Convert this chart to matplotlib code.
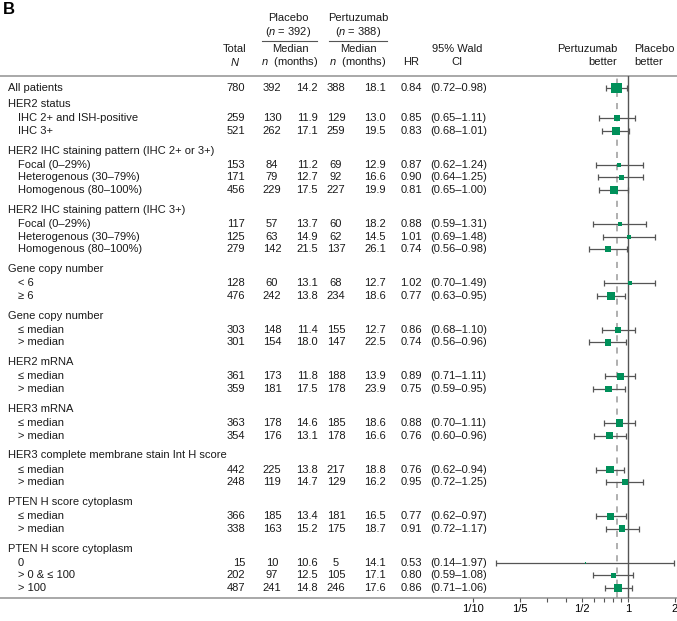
import numpy as np
import matplotlib.pyplot as plt

# ---------------------- 字体设置 ----------------------
plt.rcParams['font.family'] = ['Liberation Sans', 'DejaVu Sans']
plt.rcParams['mathtext.fontset'] = 'custom'
plt.rcParams['mathtext.it'] = 'Liberation Sans:italic'
plt.rcParams['mathtext.rm'] = 'Liberation Sans'

# ---------------------- 数据 ----------------------
group_names = ["HER2 status",
               "HER2 IHC staining pattern (IHC 2+ or 3+)",
               "HER2 IHC staining pattern (IHC 3+)",
               "Gene copy number",
               "Gene copy number",
               "HER2 mRNA",
               "HER3 mRNA",
               "HER3 complete membrane stain Int H score",
               "PTEN H score cytoplasm",
               "PTEN H score cytoplasm"]
group_sizes = [2, 3, 3, 2, 2, 2, 2, 2, 2, 3]

row_labels = ["All patients",
              "IHC 2+ and ISH-positive", "IHC 3+",
              "Focal (0\u201329%)", "Heterogenous (30\u201379%)", "Homogenous (80\u2013100%)",
              "Focal (0\u201329%)", "Heterogenous (30\u201379%)", "Homogenous (80\u2013100%)",
              "< 6", "\u2265 6",
              "\u2264 median", "> median",
              "\u2264 median", "> median",
              "\u2264 median", "> median",
              "\u2264 median", "> median",
              "\u2264 median", "> median",
              "0", "> 0 & \u2264 100", "> 100"]

total_n = [780, 259, 521, 153, 171, 456, 117, 125, 279, 128, 476, 303, 301,
           361, 359, 363, 354, 442, 248, 366, 338, 15, 202, 487]
pla_n = [392, 130, 262, 84, 79, 229, 57, 63, 142, 60, 242, 148, 154,
         173, 181, 178, 176, 225, 119, 185, 163, 10, 97, 241]
pla_med = [14.2, 11.9, 17.1, 11.2, 12.7, 17.5, 13.7, 14.9, 21.5, 13.1, 13.8, 11.4, 18.0,
           11.8, 17.5, 14.6, 13.1, 13.8, 14.7, 13.4, 15.2, 10.6, 12.5, 14.8]
per_n = [388, 129, 259, 69, 92, 227, 60, 62, 137, 68, 234, 155, 147,
         188, 178, 185, 178, 217, 129, 181, 175, 5, 105, 246]
per_med = [18.1, 13.0, 19.5, 12.9, 16.6, 19.9, 18.2, 14.5, 26.1, 12.7, 18.6, 12.7, 22.5,
           13.9, 23.9, 18.6, 16.6, 18.8, 16.2, 16.5, 18.7, 14.1, 17.1, 17.6]
hr = [0.84, 0.85, 0.83, 0.87, 0.90, 0.81, 0.88, 1.01, 0.74, 1.02, 0.77, 0.86, 0.74,
      0.89, 0.75, 0.88, 0.76, 0.76, 0.95, 0.77, 0.91, 0.53, 0.80, 0.86]
ci_lo = [0.72, 0.65, 0.68, 0.62, 0.64, 0.65, 0.59, 0.69, 0.56, 0.70, 0.63, 0.68, 0.56,
         0.71, 0.59, 0.70, 0.60, 0.62, 0.72, 0.62, 0.72, 0.14, 0.59, 0.71]
ci_hi = [0.98, 1.11, 1.01, 1.24, 1.25, 1.00, 1.31, 1.48, 0.98, 1.49, 0.95, 1.10, 0.96,
         1.11, 0.95, 1.11, 0.96, 0.94, 1.25, 0.97, 1.17, 1.97, 1.08, 1.06]

x_ticks = [0.1, 0.2, 0.5, 1, 2]
x_tick_labels = ["1/10", "1/5", "1/2", "1", "2"]

# ---------------------- 版面（像素） ----------------------
W, H = 677, 621
top_line, first_row = 76, 88
gap_first, gap_head, row_step, gap_group = 16, 14.2, 12.6, 19.8

row_y = [first_row]
head_y = []
cur = first_row + gap_first
for size in group_sizes:
    head_y.append(cur)
    cur += gap_head
    for k in range(size):
        row_y.append(cur)
        if k < size - 1:
            cur += row_step
    cur += gap_group
bottom_line = row_y[-1] + 10

fig = plt.figure(figsize=(W / 100, H / 100), dpi=100)
ax = fig.add_axes([0, 0, 1, 1])
ax.set_xlim(0, W)
ax.set_ylim(H, 0)
ax.axis('off')

fs = 8
txt = dict(fontsize=fs, va='center', color='#1a1a1a')

ax.text(3, 10, "B", fontsize=12, fontweight='bold', va='center')

# 表头
ax.text(288, 18, "Placebo", ha='center', **txt)
ax.text(288, 32, "($n$ = 392)", ha='center', **txt)
ax.plot([262, 317], [41, 41], color='#555555', lw=0.8)
ax.text(358, 18, "Pertuzumab", ha='center', **txt)
ax.text(358, 32, "($n$ = 388)", ha='center', **txt)
ax.plot([329, 387], [41, 41], color='#555555', lw=0.8)
ax.text(235, 49, "Total", ha='center', **txt)
ax.text(235, 62, "$N$", ha='center', **txt)
for cx in (290, 358):
    ax.text(cx, 49, "Median", ha='center', **txt)
    ax.text(cx, 62, "$n$  (months)", ha='center', **txt)
ax.text(411, 62, "HR", ha='center', **txt)
ax.text(457, 49, "95% Wald", ha='center', **txt)
ax.text(457, 62, "CI", ha='center', **txt)
ax.text(617, 49, "Pertuzumab", ha='right', **txt)
ax.text(617, 62, "better", ha='right', **txt)
ax.text(634, 49, "Placebo", ha='left', **txt)
ax.text(634, 62, "better", ha='left', **txt)

ax.plot([0, W], [top_line, top_line], color='#9a9a9a', lw=1.2)
ax.plot([0, W], [bottom_line, bottom_line], color='#9a9a9a', lw=1.2)

# 分组标题
for name, y in zip(group_names, head_y):
    ax.text(8, y, name, ha='left', **txt)

# 数据行
for i, y in enumerate(row_y):
    ax.text(8 if i == 0 else 18, y, row_labels[i], ha='left', **txt)
    ax.text(245, y, f"{total_n[i]}", ha='right', **txt)
    ax.text(272, y, f"{pla_n[i]}", ha='center', **txt)
    ax.text(318, y, f"{pla_med[i]:.1f}", ha='right', **txt)
    ax.text(336, y, f"{per_n[i]}", ha='center', **txt)
    ax.text(386, y, f"{per_med[i]:.1f}", ha='right', **txt)
    ax.text(411, y, f"{hr[i]:.2f}", ha='center', **txt)
    ax.text(430, y, f"({ci_lo[i]:.2f}\u2013{ci_hi[i]:.2f})", ha='left', **txt)

# ---------------------- 森林图 ----------------------
fx0, fx1 = 473, 675
axf = fig.add_axes([fx0 / W, (H - bottom_line) / H, (fx1 - fx0) / W, (bottom_line - top_line) / H])
axf.set_xscale('log')
axf.set_xlim(0.1, 2)
axf.set_ylim(bottom_line, top_line)
axf.patch.set_alpha(0)
for s in axf.spines.values():
    s.set_visible(False)

hr_a = np.array(hr)
axf.axvline(1, color='#555555', lw=1.0, zorder=1)
axf.axvline(hr[0], color='#9a9a9a', lw=1.1, ls=(0, (4, 4)), zorder=1)
axf.errorbar(hr_a, row_y, xerr=[hr_a - np.array(ci_lo), np.array(ci_hi) - hr_a],
             fmt='none', ecolor='#555555', elinewidth=0.9, capsize=2.5, capthick=0.9, zorder=2)
axf.scatter(hr_a, row_y, s=np.array(total_n) * 0.07, marker='s', color='#00905A',
            linewidths=0, zorder=3)

axf.set_xticks(x_ticks)
axf.set_xticklabels(x_tick_labels)
axf.set_xticks([0.3, 0.4, 0.6, 0.7, 0.8, 0.9], minor=True)
axf.xaxis.set_minor_formatter(plt.NullFormatter())
axf.tick_params(axis='x', which='both', direction='out', length=3, width=0.8,
                color='#555555', labelsize=fs, pad=1.5)
axf.tick_params(axis='y', left=False, labelleft=False)

fig.savefig("out.png", dpi=100)
